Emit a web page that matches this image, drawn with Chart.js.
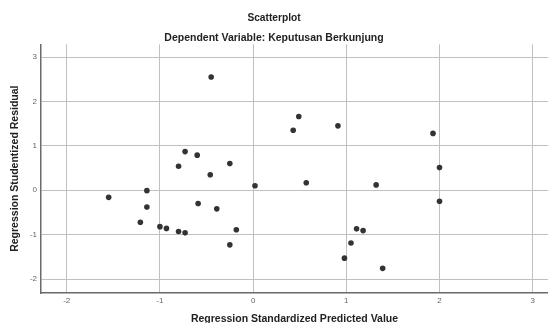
<!DOCTYPE html>
<html>
<head>
<meta charset="utf-8">
<script src="https://cdn.jsdelivr.net/npm/chart.js@4/dist/chart.umd.min.js"></script>
<style>
  html, body { margin: 0; padding: 0; background: #fff; overflow: hidden; }
  canvas { display: block; }
</style>
</head>
<body>
<canvas id="chart" width="548" height="323"></canvas>
<script>
// values
const predicted = [
  -0.45, 0.49, 0.43, -0.73, -0.60, -0.80, -0.25, -0.46, 0.02, -1.14,
  -1.55, -1.14, -0.59, -0.39, -1.21, -1.00, -0.93, -0.80, -0.73, -0.18,
  -0.25, 0.91, 1.93, 2.00, 0.57, 1.32, 2.00, 1.11, 1.18, 1.05,
  0.98, 1.39
];
const residual = [
  2.55, 1.66, 1.35, 0.87, 0.79, 0.54, 0.60, 0.35, 0.10, -0.01,
  -0.16, -0.38, -0.30, -0.42, -0.72, -0.82, -0.86, -0.93, -0.96, -0.89,
  -1.23, 1.45, 1.28, 0.51, 0.17, 0.12, -0.25, -0.87, -0.91, -1.19,
  -1.53, -1.76
];
const xTicks = [-2, -1, 0, 1, 2, 3];
const yTicks = [-2, -1, 0, 1, 2, 3];

const points = predicted.map((x, i) => ({ x: x, y: residual[i] }));
const FONT = "'Liberation Sans', Arial, sans-serif";

// the point hover radius makes chart.js reserve a few px on the right; the plot runs to the edge here
Chart.registry.getController('scatter').prototype.getMaxOverflow = () => 0;

new Chart(document.getElementById('chart'), {
  type: 'scatter',
  data: {
    datasets: [{
      data: points,
      backgroundColor: '#333333',
      borderColor: '#333333',
      borderWidth: 0,
      pointRadius: 2.8
    }]
  },
  options: {
    responsive: false,
    animation: false,
    layout: { padding: 0 },
    plugins: {
      legend: { display: false },
      tooltip: { enabled: false },
      title: {
        display: true,
        text: 'Scatterplot',
        color: '#222',
        font: { family: FONT, size: 10.2, weight: 'bold' },
        padding: { top: 12, bottom: 7.5 }
      },
      subtitle: {
        display: true,
        text: 'Dependent Variable: Keputusan Berkunjung',
        color: '#222',
        font: { family: FONT, size: 10.5, weight: 'bold' },
        padding: { top: 0, bottom: 0 }
      }
    },
    scales: {
      x: {
        type: 'linear',
        min: -2.276,
        max: 3.164,
        afterBuildTicks: s => { s.ticks = xTicks.map(v => ({ value: v })); },
        afterFit: s => { s.height = 30; s.paddingLeft = 0; s.paddingRight = 0; },
        grid: { color: '#c0c0c0', lineWidth: 1, drawTicks: false },
        border: { color: '#6a6a6a', width: 1.5 },
        ticks: { color: '#666', padding: 3, font: { family: FONT, size: 8 } },
        title: {
          display: true,
          text: 'Regression Standardized Predicted Value',
          color: '#222',
          font: { family: FONT, size: 10.5, weight: 'bold' },
          padding: { top: 0, bottom: -2.5 }
        }
      },
      y: {
        type: 'linear',
        min: -2.315,
        max: 3.286,
        afterBuildTicks: s => { s.ticks = yTicks.map(v => ({ value: v })); },
        afterFit: s => { s.width = 41; s.paddingTop = 0; s.paddingBottom = 0; },
        grid: { color: '#c0c0c0', lineWidth: 1, drawTicks: false },
        border: { color: '#6a6a6a', width: 1.5 },
        ticks: { color: '#666', padding: 4, font: { family: FONT, size: 8 } },
        title: {
          display: true,
          text: 'Regression Studentized Residual',
          color: '#222',
          font: { family: FONT, size: 10.5, weight: 'bold' },
          padding: { top: 8.5, bottom: 0 }
        }
      }
    }
  }
});
</script>
</body>
</html>
